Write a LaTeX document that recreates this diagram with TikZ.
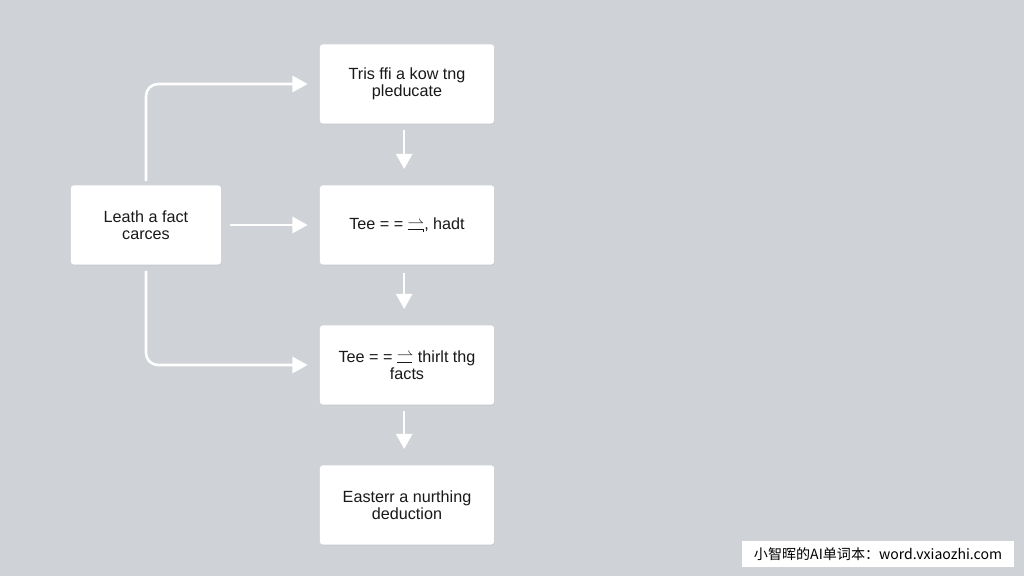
\documentclass[tikz,border=0pt]{standalone}
\usepackage{fontspec}
\setmainfont{Liberation Sans}
\newfontfamily\cjk{Noto Sans CJK SC}
\usepackage{amsmath}
\usepackage{amssymb}
\usepackage{tikz}
\usetikzlibrary{arrows.meta, positioning, shadows}
\definecolor{bgcol}{RGB}{207,210,214}
\definecolor{txtcol}{RGB}{25,25,25}
\newcommand{\harpboth}{\mathrel{\ooalign{\raisebox{0.25ex}{$\rightharpoonup$}\cr\rule[0.05ex]{0.95em}{0.55pt}\rule[-0.2ex]{0.55pt}{0.3ex}}}}
\newcommand{\harpline}{\mathrel{\ooalign{\raisebox{0.3ex}{$\rightharpoonup$}\cr\rule[-0.05ex]{0.95em}{0.55pt}}}}
\tikzset{
  stepbox/.style={fill=white, rounded corners=2pt, minimum width=4.35cm, minimum height=1.98cm,
    align=center, text=txtcol, font=\fontsize{11.5}{12.3}\selectfont,
    drop shadow={opacity=0.10, shadow xshift=0.4pt, shadow yshift=-0.7pt}},
  flow/.style={white, line width=1.8pt, -{Triangle[length=0.38cm, width=0.4cm]}},
}
\begin{document}
\begin{tikzpicture}[x=0.025cm, y=-0.025cm]
      \fill[bgcol] (0,0) rectangle (1024,576);
      \useasboundingbox (0,0) rectangle (1024,576);

      \node[stepbox] (know) at (407,84) {Tris ffi a kow tng\\pleducate};
      \node[stepbox] (hadt) at (407,225) {Tee = = $\harpboth$, hadt};
      \node[stepbox] (facts) at (407,365) {Tee = = $\harpline$ thirlt thg\\facts};
      \node[stepbox] (deduce) at (407,505) {Easterr a nurthing\\deduction};
      \node[stepbox, minimum width=3.75cm] (leath) at (146,225) {Leath a fact\\carces};

      \draw[flow, shorten <=0.22cm, shorten >=0.3cm] (leath) -- (hadt);
      \draw[flow, rounded corners=0.3cm, shorten <=0.1cm, shorten >=0.3cm] (leath.north) |- (know.west);
      \draw[flow, rounded corners=0.3cm, shorten <=0.15cm, shorten >=0.3cm] (leath.south) |- (facts.west);

      \draw[flow, shorten <=0.15cm, shorten >=0.4cm] ([xshift=-2]know.south) -- ([xshift=-2]hadt.north);
      \draw[flow, shorten <=0.2cm, shorten >=0.4cm] ([xshift=-2]hadt.south) -- ([xshift=-2]facts.north);
      \draw[flow, shorten <=0.15cm, shorten >=0.4cm] ([xshift=-2]facts.south) -- ([xshift=-2]deduce.north);

      \node[fill=white, minimum width=6.8cm, minimum height=0.65cm, inner sep=0pt, text=black,
        font=\cjk\fontsize{10}{12}\selectfont] (mark) at (878,554) {小智晖的AI单词本：word.vxiaozhi.com};
    \end{tikzpicture}
\end{document}
